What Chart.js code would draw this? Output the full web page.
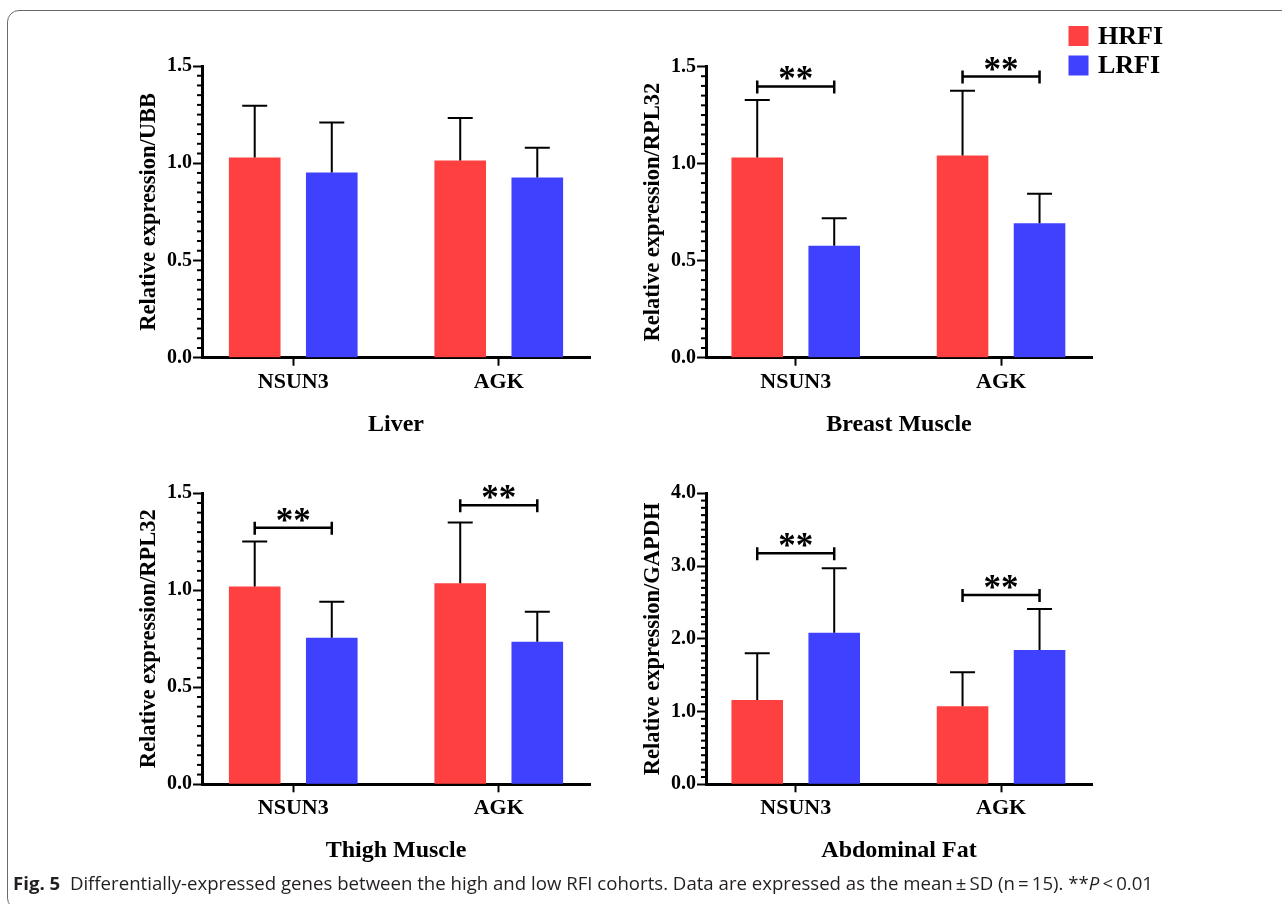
<!DOCTYPE html>
<html><head><meta charset="utf-8">
<script src="https://cdn.jsdelivr.net/npm/chart.js@4.4.1/dist/chart.umd.min.js"></script>
<style>
html,body{margin:0;padding:0;background:#fff;width:1282px;height:904px;overflow:hidden;position:relative}
canvas.layer{position:absolute;left:0;top:0}
#frame{position:absolute;left:7px;top:10px;width:1300px;height:900px;border:1.5px solid #6a6a6a;border-radius:12px;box-sizing:border-box}
#caption{position:absolute;left:13px;top:871px;font-family:'Open Sans';font-size:18px;color:#231f20;white-space:nowrap;transform-origin:0 0}
#caption b{font-weight:700}
</style></head><body>
<div id="frame"></div>
<canvas id="c1" class="layer" width="1282" height="904"></canvas>
<canvas id="c2" class="layer" width="1282" height="904"></canvas>
<canvas id="c3" class="layer" width="1282" height="904"></canvas>
<canvas id="c4" class="layer" width="1282" height="904"></canvas>
<div id="caption"><b>Fig. 5</b>&nbsp; Differentially-expressed genes between the high and low RFI cohorts. Data are expressed as the mean&#8201;±&#8201;SD (n&#8201;=&#8201;15). **<i>P</i>&#8201;&lt;&#8201;0.01</div>
<script>
// ---------- data ----------
const categories = ['NSUN3', 'AGK'];
const seriesNames = ['HRFI', 'LRFI'];
const seriesColors = ['rgb(255,64,64)', 'rgb(64,64,255)'];

const liverHRFI = [1.03, 1.014];
const liverHRFI_SD = [0.265, 0.219];
const liverLRFI = [0.952, 0.926];
const liverLRFI_SD = [0.258, 0.153];

const breastHRFI = [1.031, 1.041];
const breastHRFI_SD = [0.297, 0.334];
const breastLRFI = [0.577, 0.693];
const breastLRFI_SD = [0.141, 0.151];
const breastSigY = [1.397, 1.448];

const thighHRFI = [1.019, 1.036];
const thighHRFI_SD = [0.232, 0.313];
const thighLRFI = [0.756, 0.735];
const thighLRFI_SD = [0.185, 0.155];
const thighSigY = [1.323, 1.438];

const fatHRFI = [1.159, 1.072];
const fatHRFI_SD = [0.641, 0.468];
const fatLRFI = [2.084, 1.846];
const fatLRFI_SD = [0.885, 0.564];
const fatSigY = [3.175, 2.602];

const yTicks15 = [0, 0.5, 1.0, 1.5];
const yTicks4 = [0, 1.0, 2.0, 3.0, 4.0];
const sigLabel = '**';

// ---------- drawing ----------
const SERIF = '"Liberation Serif", "Times New Roman", serif';

const decor = {
  id: 'decor',
  afterDatasetsDraw(chart, args, opts) {
    const ctx = chart.ctx, ya = chart.scales.y, ca = chart.chartArea;
    ctx.save();
    ctx.strokeStyle = '#000';
    ctx.fillStyle = '#000';
    ctx.lineCap = 'butt';
    // minor ticks
    ctx.lineWidth = 2;
    const n = Math.round((ya.max - ya.min) / opts.minor);
    for (let k = 0; k <= n; k++) {
      const v = ya.min + k * opts.minor;
      if (opts.yTicks.some(t => Math.abs(t - v) < 1e-6)) continue;
      const py = ya.getPixelForValue(v);
      ctx.beginPath(); ctx.moveTo(ca.left - 5, py); ctx.lineTo(ca.left, py); ctx.stroke();
    }
    // error bars (upper whisker)
    ctx.lineWidth = 2;
    chart.data.datasets.forEach((ds, di) => {
      const meta = chart.getDatasetMeta(di);
      meta.data.forEach((bar, i) => {
        const top = ya.getPixelForValue(ds.data[i].y + opts.sd[di][i]);
        ctx.beginPath();
        ctx.moveTo(bar.x, bar.y); ctx.lineTo(bar.x, top);
        ctx.moveTo(bar.x - 12.5, top); ctx.lineTo(bar.x + 12.5, top);
        ctx.stroke();
      });
    });
    // significance brackets
    if (opts.sig) {
      const m0 = chart.getDatasetMeta(0), m1 = chart.getDatasetMeta(1);
      ctx.font = 'bold 35px ' + SERIF;
      ctx.textAlign = 'center';
      ctx.textBaseline = 'alphabetic';
      opts.sig.forEach((sy, i) => {
        const x0 = m0.data[i].x, x1 = m1.data[i].x;
        const y = ya.getPixelForValue(sy);
        ctx.lineWidth = 2.5;
        ctx.beginPath();
        ctx.moveTo(x0, y); ctx.lineTo(x1, y);
        ctx.moveTo(x0, y - 6); ctx.lineTo(x0, y + 7);
        ctx.moveTo(x1, y - 6); ctx.lineTo(x1, y + 7);
        ctx.stroke();
        const mt = ctx.measureText(sigLabel);
        const desc = mt.actualBoundingBoxDescent || -9;
        ctx.fillText(sigLabel, (x0 + x1) / 2, y - 6 - desc);
      });
    }
    // legend
    if (opts.legend) {
      ctx.font = 'bold 26px ' + SERIF;
      ctx.textAlign = 'left';
      ctx.textBaseline = 'middle';
      chart.data.datasets.forEach((ds, di) => {
        const cy = 36 + di * 29.5;
        ctx.fillStyle = ds.backgroundColor;
        ctx.fillRect(1068.5, cy - 10, 20, 20);
        ctx.fillStyle = '#000';
        ctx.fillText(ds.label, 1098, cy + 1);
      });
    }
    ctx.restore();
  }
};

function makePanel(id, p) {
  const W = 70, H = 90;
  const datasets = [p.h, p.l].map((vals, di) => ({
    label: seriesNames[di],
    data: vals.map((v, i) => ({ x: i + 1, y: v })),
    backgroundColor: seriesColors[di],
    borderWidth: 0,
    categoryPercentage: 0.75,
    barPercentage: 0.67
  }));
  new Chart(document.getElementById(id), {
    type: 'bar',
    data: { datasets },
    options: {
      responsive: false,
      animation: false,
      events: [],
      layout: { padding: { left: p.left - W, right: 1282 - p.right, top: p.top, bottom: 904 - p.bottom - H } },
      plugins: {
        legend: { display: false },
        tooltip: { enabled: false },
        decor: { minor: p.minor, yTicks: p.yTicks, sd: [p.hsd, p.lsd], sig: p.sig, legend: p.legend }
      },
      scales: {
        x: {
          type: 'linear',
          offset: false,
          min: p.xMin, max: p.xMax,
          afterFit: s => { s.height = H; },
          afterBuildTicks: s => { s.ticks = categories.map((c, i) => ({ value: i + 1 })); },
          ticks: {
            autoSkip: false, maxRotation: 0, padding: 3, color: '#000',
            font: { family: SERIF, size: 22, weight: 'bold' },
            callback: v => categories[Math.round(v) - 1]
          },
          grid: { offset: false, drawOnChartArea: false, drawTicks: true, tickLength: 8, tickWidth: 2, tickColor: '#000' },
          border: { display: true, color: '#000', width: 3 },
          title: { display: true, text: p.title, color: '#000', padding: { top: 0, bottom: 9 },
                   font: { family: SERIF, size: 24, weight: 'bold' } }
        },
        y: {
          min: p.yTicks[0], max: p.yTicks[p.yTicks.length - 1],
          afterFit: s => { s.width = W; },
          afterBuildTicks: s => { s.ticks = p.yTicks.map(v => ({ value: v })); },
          ticks: {
            autoSkip: false, padding: 1, color: '#000',
            font: { family: SERIF, size: 20, weight: 'bold' },
            callback: v => Number(v).toFixed(1)
          },
          grid: { drawOnChartArea: false, drawTicks: true, tickLength: 9, tickWidth: 2, tickColor: '#000' },
          border: { display: true, color: '#000', width: 3 },
          title: { display: true, text: p.ytitle, color: '#000', padding: { top: 4, bottom: 0 },
                   font: { family: SERIF, size: 22.5, weight: 'bold' } }
        }
      }
    },
    plugins: [decor]
  });
}

makePanel('c1', { left: 202, right: 590, top: 66, bottom: 357.7, xMin: 0.556, xMax: 2.444,
  yTicks: yTicks15, minor: 0.05, h: liverHRFI, hsd: liverHRFI_SD, l: liverLRFI, lsd: liverLRFI_SD,
  title: 'Liver', ytitle: 'Relative expression/UBB' });
makePanel('c2', { left: 706, right: 1092, top: 66.5, bottom: 357.7, xMin: 0.563, xMax: 2.443,
  yTicks: yTicks15, minor: 0.05, h: breastHRFI, hsd: breastHRFI_SD, l: breastLRFI, lsd: breastLRFI_SD,
  sig: breastSigY, legend: true, title: 'Breast Muscle', ytitle: 'Relative expression/RPL32' });
makePanel('c3', { left: 202, right: 590, top: 493.3, bottom: 784.3, xMin: 0.556, xMax: 2.444,
  yTicks: yTicks15, minor: 0.05, h: thighHRFI, hsd: thighHRFI_SD, l: thighLRFI, lsd: thighLRFI_SD,
  sig: thighSigY, title: 'Thigh Muscle', ytitle: 'Relative expression/RPL32' });
makePanel('c4', { left: 706, right: 1092, top: 493.3, bottom: 784.3, xMin: 0.563, xMax: 2.443,
  yTicks: yTicks4, minor: 0.1, h: fatHRFI, hsd: fatHRFI_SD, l: fatLRFI, lsd: fatLRFI_SD,
  sig: fatSigY, title: 'Abdominal Fat', ytitle: 'Relative expression/GAPDH' });

// fit caption width to the reference line length
const cap = document.getElementById('caption');
const w = cap.getBoundingClientRect().width;
cap.style.transform = 'scaleX(' + (1140 / w) + ')';
</script>
</body></html>
